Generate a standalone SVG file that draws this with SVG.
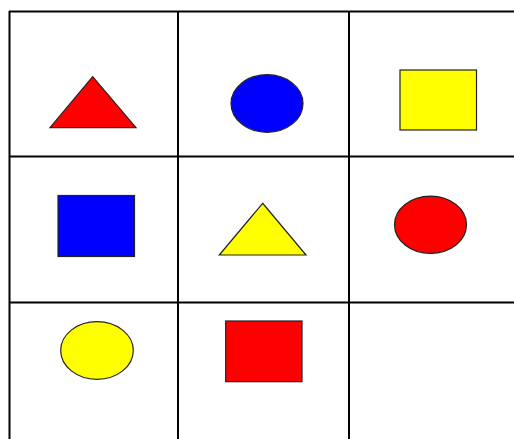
<svg xmlns="http://www.w3.org/2000/svg" width="514" height="439" viewBox="0 0 514 439">
<style>
.grid line{stroke:#000;stroke-width:2}
.shape{stroke:#222;stroke-width:1.2}
</style>
<rect width="514" height="439" fill="#fff"/>
<g id="grid" class="grid">
<line x1="9" y1="11.5" x2="514" y2="11.5"/>
<line x1="9" y1="156.5" x2="514" y2="156.5"/>
<line x1="9" y1="302.5" x2="514" y2="302.5"/>
<line x1="9.5" y1="11" x2="9.5" y2="439"/>
<line x1="178" y1="11" x2="178" y2="439"/>
<line x1="349" y1="11" x2="349" y2="439"/>
</g>
<g id="red-triangle"><polygon class="shape" fill="#ff0000" points="92.7,76.7 50,127.7 136,127.7"/></g>
<g id="blue-circle"><ellipse class="shape" fill="#0000ff" cx="267" cy="103.5" rx="36" ry="28.8"/></g>
<g id="yellow-square"><rect class="shape" fill="#ffff00" x="400" y="70" width="76.5" height="60"/></g>
<g id="blue-square"><rect class="shape" fill="#0000ff" x="58" y="195.5" width="76.5" height="61"/></g>
<g id="yellow-triangle"><polygon class="shape" fill="#ffff00" points="262.7,203.3 219.3,255 306,255"/></g>
<g id="red-circle"><ellipse class="shape" fill="#ff0000" cx="430.5" cy="224.7" rx="36" ry="28.6"/></g>
<g id="yellow-circle"><ellipse class="shape" fill="#ffff00" cx="97" cy="350.5" rx="36.3" ry="28.8"/></g>
<g id="red-square"><rect class="shape" fill="#ff0000" x="225.7" y="321" width="76.3" height="60.7"/></g>
</svg>
